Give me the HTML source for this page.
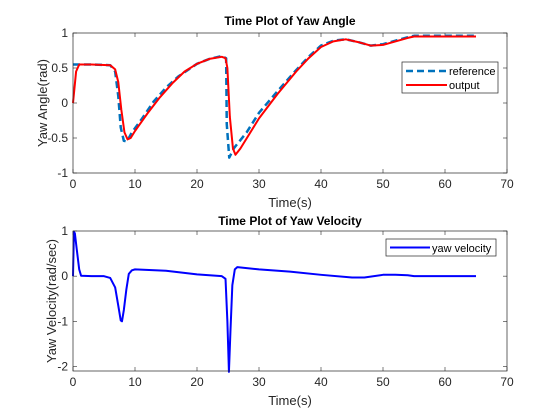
<!DOCTYPE html>
<html><head><meta charset="utf-8"><style>
html,body{margin:0;padding:0;background:#fff;}
svg{display:block;font-family:"Liberation Sans",sans-serif;}
</style></head><body>
<svg id="fig" width="560" height="420" viewBox="0 0 560 420">
<rect width="560" height="420" fill="#fff"/>
</svg>
<script>
// Top chart data
const angleOutT = [0,0.5,1,3,6,6.8,7.3,7.8,8.3,8.8,9.3,10,12,14,16,18,20,22,24,24.6,24.9,25.3,25.8,26.2,27,30,33,36,38,40,42,44,46,48,50,52,54,55,65];
const angleOutV = [0,0.45,0.55,0.55,0.54,0.48,0.3,-0.1,-0.42,-0.52,-0.5,-0.4,-0.15,0.08,0.28,0.45,0.56,0.63,0.66,0.64,0.5,-0.2,-0.65,-0.74,-0.65,-0.22,0.13,0.45,0.64,0.8,0.88,0.91,0.87,0.82,0.83,0.88,0.93,0.95,0.95];
const angleRefT = [0,3,6,6.8,7.3,7.7,8.2,8.7,9.5,11,13,15,17,20,22,24,24.7,24.8,25.2,26,28,30,33,36,38,40,42,44,46,48,50,52,54,55,65];
const angleRefV = [0.55,0.55,0.54,0.45,0.1,-0.35,-0.54,-0.55,-0.42,-0.24,0.02,0.22,0.38,0.56,0.63,0.67,0.64,-0.3,-0.78,-0.64,-0.42,-0.14,0.17,0.47,0.66,0.82,0.89,0.91,0.87,0.82,0.84,0.89,0.94,0.96,0.96];
// Bottom chart data
const velT = [0,0.15,0.3,0.6,1,1.3,3,5,6,6.8,7.3,7.7,7.9,8.2,8.6,9,9.5,10,15,20,24,24.6,24.9,25.15,25.4,25.7,26.1,26.5,30,35,40,45,47,50,52,54,55,56,65];
const velV = [0,0.98,0.95,0.6,0.15,0.01,0,0,-0.04,-0.25,-0.65,-0.98,-1.0,-0.75,-0.3,0.05,0.13,0.15,0.12,0.04,0,-0.06,-1.0,-2.12,-1.2,-0.2,0.15,0.2,0.15,0.1,0.03,-0.03,-0.03,0.03,0.03,0.02,0,0,0];
const xTicks = [0,10,20,30,40,50,60,70];
const topYTicks = [1,0.5,0,-0.5,-1];
const topYLabels = ["1","0.5","0","-0.5","-1"];
const botYTicks = [1,0,-1,-2];
const botYLabels = ["1","0","-1","-2"];

const NS="http://www.w3.org/2000/svg";
const svg=document.getElementById('fig');
function mk(tag,attrs,parent){const e=document.createElementNS(NS,tag);for(const k in attrs)e.setAttribute(k,attrs[k]);(parent||svg).appendChild(e);return e;}
function txt(s,attrs,parent){const e=mk('text',attrs,parent);e.textContent=s;return e;}

function axes(cfg){
  const {x0,x1,y0,y1,ymin,ymax,name}=cfg;
  const sx=v=>x0+(v-0)/(70-0)*(x1-x0);
  const sy=v=>y1-(v-ymin)/(ymax-ymin)*(y1-y0);
  const g=mk('g',{});
  
  
  mk('rect',{x:x0,y:y0,width:x1-x0,height:y1-y0,fill:'#fff',stroke:'none'},g);
  xTicks.forEach(t=>{
    const x=sx(t);
    mk('line',{x1:x,x2:x,y1:y1,y2:y1-4,stroke:'#262626','stroke-width':0.6},g);
    mk('line',{x1:x,x2:x,y1:y0,y2:y0+4,stroke:'#262626','stroke-width':0.6},g);
    const l=txt(String(t),{x:x,y:y1+15,'font-size':12,fill:'#262626','text-anchor':'middle'},g);
    
    
  });
  cfg.yt.forEach((t,i)=>{
    const y=sy(t);
    mk('line',{x1:x0,x2:x0+4,y1:y,y2:y,stroke:'#262626','stroke-width':0.6},g);
    mk('line',{x1:x1,x2:x1-4,y1:y,y2:y,stroke:'#262626','stroke-width':0.6},g);
    const l=txt(cfg.yl[i],{x:x0-5,y:y+4,'font-size':12,fill:'#262626','text-anchor':'end'},g);
    
    
  });
  return {sx,sy,g};
}
function series(ax,T,V,attrs,name){
  const d=T.map((t,i)=>(i?'L':'M')+ax.sx(t).toFixed(2)+','+ax.sy(V[i]).toFixed(2)).join(' ');
  const p=mk('path',Object.assign({d:d,fill:'none','stroke-linejoin':'round'},attrs),ax.g);
  
  
}
function frame(cfg,g){mk('rect',{x:cfg.x0,y:cfg.y0,width:cfg.x1-cfg.x0,height:cfg.y1-cfg.y0,fill:'none',stroke:'#262626','stroke-width':0.7},g);}

// Top
const c1={x0:73,x1:507,y0:33,y1:173,ymin:-1,ymax:1,yt:topYTicks,yl:topYLabels,name:'yaw-angle-axes'};
const a1=axes(c1);
series(a1,angleRefT,angleRefV,{stroke:'#0072BD','stroke-width':2.5,'stroke-dasharray':'7,4'},'reference-line');
series(a1,angleOutT,angleOutV,{stroke:'#ff0000','stroke-width':2},'output-line');
frame(c1,a1.g);
// Bottom
const c2={x0:73,x1:507,y0:231,y1:371,ymin:-2.1,ymax:1,yt:botYTicks,yl:botYLabels,name:'yaw-velocity-axes'};
const a2=axes(c2);
series(a2,velT,velV,{stroke:'#0000ff','stroke-width':2},'yaw-velocity-line');
frame(c2,a2.g);
</script>
<script>
const S=document.getElementById('fig');
function t2(s,a,name){const e=document.createElementNS("http://www.w3.org/2000/svg",'text');for(const k in a)e.setAttribute(k,a[k]);e.textContent=s;


S.appendChild(e);return e;}
t2('Time Plot of Yaw Angle',{x:290,y:25,'font-size':12,'font-weight':'bold','text-anchor':'middle',fill:'#000'},'top-title');
t2('Time(s)',{x:290,y:207,'font-size':13,'text-anchor':'middle',fill:'#262626'},'top-x-axis-title');
t2('Yaw Angle(rad)',{x:0,y:0,'font-size':13,'text-anchor':'middle',fill:'#262626',transform:'translate(47,103) rotate(-90)'},'top-y-axis-title');
t2('Time Plot of Yaw Velocity',{x:290,y:225,'font-size':12,'font-weight':'bold','text-anchor':'middle',fill:'#000'},'bottom-title');
t2('Time(s)',{x:290,y:405,'font-size':13,'text-anchor':'middle',fill:'#262626'},'bottom-x-axis-title');
t2('Yaw Velocity(rad/sec)',{x:0,y:0,'font-size':13,'text-anchor':'middle',fill:'#262626',transform:'translate(56,301) rotate(-90)'},'bottom-y-axis-title');
function L(tag,a,name){const e=document.createElementNS("http://www.w3.org/2000/svg",tag);for(const k in a)e.setAttribute(k,a[k]);


S.appendChild(e);return e;}
L('rect',{x:402,y:62,width:96,height:31,fill:'#fff',stroke:'#262626','stroke-width':0.7},'top-legend');
L('line',{x1:406,x2:447,y1:71,y2:71,stroke:'#0072BD','stroke-width':2.5,'stroke-dasharray':'7,4'},'legend-reference-swatch');
t2('reference',{x:449,y:75,'font-size':11,fill:'#000'},'legend-reference-label');
L('line',{x1:406,x2:447,y1:85,y2:85,stroke:'#ff0000','stroke-width':2},'legend-output-swatch');
t2('output',{x:449,y:89,'font-size':11,fill:'#000'},'legend-output-label');
L('rect',{x:386,y:239,width:110,height:17,fill:'#fff',stroke:'#262626','stroke-width':0.7},'bottom-legend');
L('line',{x1:390,x2:430,y1:247.5,y2:247.5,stroke:'#0000ff','stroke-width':2},'legend-velocity-swatch');
t2('yaw velocity',{x:432,y:252,'font-size':11,fill:'#000'},'legend-velocity-label');
</script>
</body></html>
